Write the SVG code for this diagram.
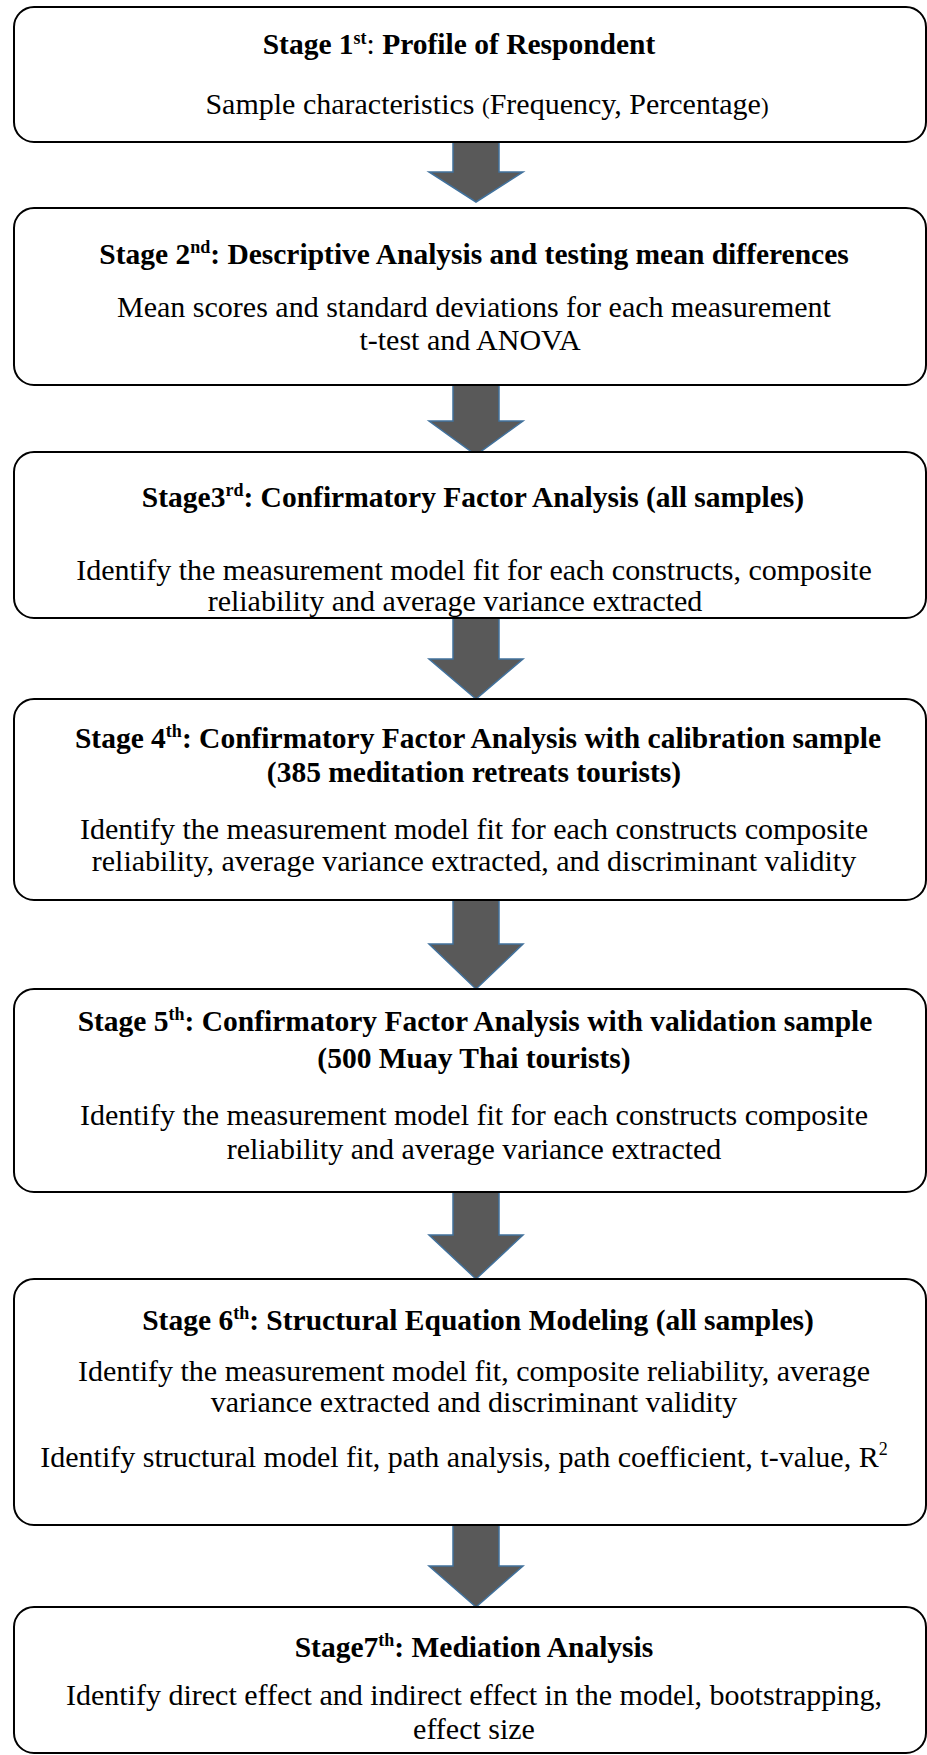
<svg xmlns="http://www.w3.org/2000/svg" width="927" height="1755" viewBox="0 0 927 1755">
  <style>
    .box { fill: #ffffff; stroke: #000000; stroke-width: 2; }
    .arrow { fill: #595959; stroke: #41719C; stroke-width: 1.5; stroke-linejoin: miter; }
    text { font-family: "Liberation Serif", "Times New Roman", serif; font-size: 30px; fill: #000000; text-anchor: middle; }
    .title { font-weight: bold; font-size: 29.5px; }
    .sup { font-size: 18px; }
    .plain { font-weight: normal; }
  </style>
  <rect width="927" height="1755" fill="#ffffff"/>

  <!-- connectors: block arrows between stages -->
  <g id="connectors">
    <polygon class="arrow" points="453,142 499,142 499,172 523,172 476,202 429,172 453,172"/>
    <polygon class="arrow" points="453,385 499,385 499,421 523,421 476,455 429,421 453,421"/>
    <polygon class="arrow" points="453,618 499,618 499,659 523,659 476,699 429,659 453,659"/>
    <polygon class="arrow" points="453,900 499,900 499,944 523,944 476,989 429,944 453,944"/>
    <polygon class="arrow" points="453,1192 499,1192 499,1235 523,1235 476,1279 429,1235 453,1235"/>
    <polygon class="arrow" points="453,1525 499,1525 499,1566 523,1566 476,1607 429,1566 453,1566"/>
  </g>

  <g id="stage1">
    <rect class="box" x="14" y="7" width="912" height="135" rx="20" ry="20"/>
    <text class="title" x="459" y="54" font-size="26.5">Stage 1<tspan class="sup" dy="-10" font-size="16">st</tspan><tspan class="plain" dy="10">: </tspan>Profile of Respondent</text>
    <text x="487" y="114" font-size="32">Sample characteristics <tspan font-size="23">(</tspan>Frequency, Percentage<tspan font-size="23">)</tspan></text>
  </g>

  <g id="stage2">
    <rect class="box" x="14" y="208" width="912" height="177" rx="20" ry="20"/>
    <text class="title" x="474" y="264" font-size="30">Stage 2<tspan class="sup" dy="-11">nd</tspan><tspan dy="11">: Descriptive Analysis and testing mean differences</tspan></text>
    <text x="474" y="317">Mean scores and standard deviations for each measurement</text>
    <text x="470" y="350">t-test and ANOVA</text>
  </g>

  <g id="stage3">
    <rect class="box" x="14" y="452" width="912" height="166" rx="20" ry="20"/>
    <text class="title" x="473" y="507" font-size="31">Stage3<tspan class="sup" dy="-11">rd</tspan><tspan dy="11">: Confirmatory Factor Analysis (all samples)</tspan></text>
    <text x="474" y="580">Identify the measurement model fit for each constructs, composite</text>
    <text x="455" y="611">reliability and average variance extracted</text>
  </g>

  <g id="stage4">
    <rect class="box" x="14" y="699" width="912" height="201" rx="20" ry="20"/>
    <text class="title" x="478" y="748" font-size="29">Stage 4<tspan class="sup" dy="-11">th</tspan><tspan dy="11">: Confirmatory Factor Analysis with calibration sample</tspan></text>
    <text class="title" x="474" y="782" font-size="26">(385 meditation retreats tourists)</text>
    <text x="474" y="839">Identify the measurement model fit for each constructs composite</text>
    <text x="474" y="871">reliability, average variance extracted, and discriminant validity</text>
  </g>

  <g id="stage5">
    <rect class="box" x="14" y="989" width="912" height="203" rx="20" ry="20"/>
    <text class="title" x="475" y="1031" font-size="28.8">Stage 5<tspan class="sup" dy="-11">th</tspan><tspan dy="11">: Confirmatory Factor Analysis with validation sample</tspan></text>
    <text class="title" x="474" y="1068">(500 Muay Thai tourists)</text>
    <text x="474" y="1125" font-size="29.6">Identify the measurement model fit for each constructs composite</text>
    <text x="474" y="1159" font-size="29.6">reliability and average variance extracted</text>
  </g>

  <g id="stage6">
    <rect class="box" x="14" y="1279" width="912" height="246" rx="20" ry="20"/>
    <text class="title" x="478" y="1330" font-size="30.5">Stage 6<tspan class="sup" dy="-11">th</tspan><tspan dy="11">: Structural Equation Modeling (all samples)</tspan></text>
    <text x="474" y="1381" font-size="29.3">Identify the measurement model fit, composite reliability, average</text>
    <text x="474" y="1412" font-size="29.3">variance extracted and discriminant validity</text>
    <text x="464" y="1467" font-size="27.8">Identify structural model fit, path analysis, path coefficient, t-value, R<tspan class="sup" dy="-12">2</tspan></text>
  </g>

  <g id="stage7">
    <rect class="box" x="14" y="1607" width="912" height="146" rx="20" ry="20"/>
    <text class="title" x="474" y="1657" font-size="31.5">Stage7<tspan class="sup" dy="-11">th</tspan><tspan dy="11">: Mediation Analysis</tspan></text>
    <text x="474" y="1705">Identify direct effect and indirect effect in the model, bootstrapping,</text>
    <text x="474" y="1739">effect size</text>
  </g>
</svg>
